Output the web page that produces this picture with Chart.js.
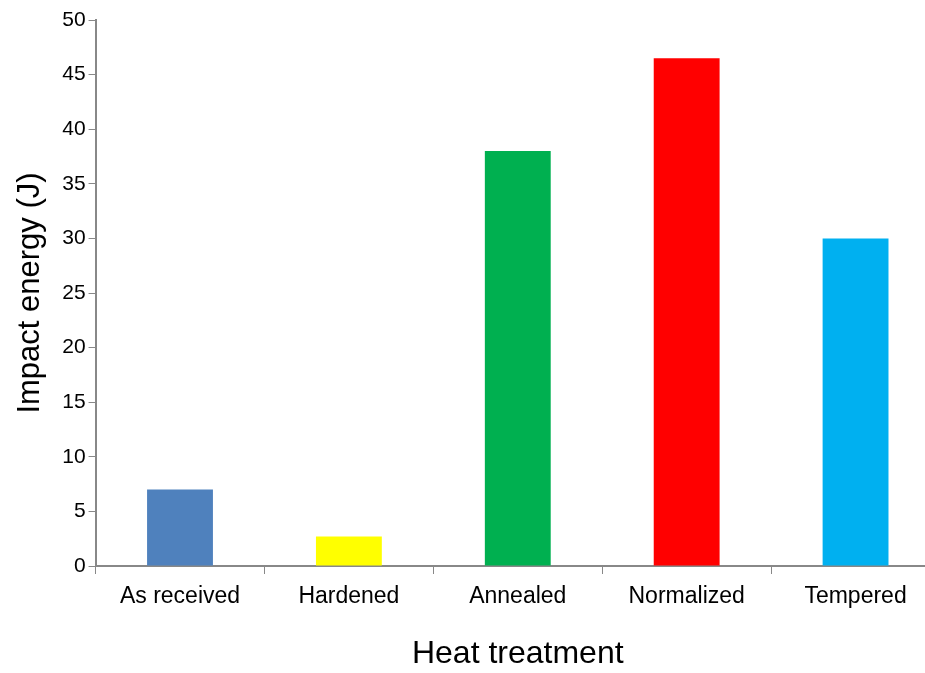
<!DOCTYPE html>
<html>
<head>
<meta charset="utf-8">
<script src="https://cdn.jsdelivr.net/npm/chart.js@4/dist/chart.umd.min.js"></script>
<style>
  html, body { margin: 0; padding: 0; background: #fff; overflow: hidden; }
  #wrap { width: 940px; height: 673px; }
</style>
</head>
<body>
<div id="wrap"><canvas id="chart-bar"></canvas></div>
<script>
var categories = ["As received", "Hardened", "Annealed", "Normalized", "Tempered"];
var impactEnergy = [7, 2.7, 38, 46.5, 30];
var barColors = ["#4f81bd", "#ffff00", "#00b050", "#ff0000", "#00b0f0"];
var yTicks = [0, 5, 10, 15, 20, 25, 30, 35, 40, 45, 50];

var ctx = document.getElementById("chart-bar").getContext("2d");

new Chart(ctx, {
  type: "bar",
  data: {
    labels: categories,
    datasets: [{
      label: "Impact energy",
      data: impactEnergy,
      backgroundColor: barColors,
      borderWidth: 0,
      barPercentage: 0.39,
      categoryPercentage: 1.0
    }]
  },
  options: {
    responsive: true,
    maintainAspectRatio: false,
    animation: false,
    layout: {
      padding: { top: 20, left: 12, right: 0, bottom: 0 }
    },
    plugins: {
      legend: { display: false },
      tooltip: { enabled: false }
    },
    scales: {
      x: {
        grid: {
          display: true,
          drawOnChartArea: false,
          drawTicks: true,
          tickLength: 8,
          color: "#888888",
          offset: true
        },
        border: { color: "#888888", width: 2 },
        ticks: {
          color: "#000",
          padding: 9,
          maxRotation: 0,
          font: { size: 23, family: "Liberation Sans" }
        },
        title: {
          display: true,
          text: "Heat treatment",
          color: "#000",
          padding: { top: 15, bottom: 0 },
          font: { size: 32, family: "Liberation Sans" }
        }
      },
      y: {
        min: 0,
        max: 50,
        afterBuildTicks: function (axis) {
          axis.ticks = yTicks.map(function (v) { return { value: v }; });
        },
        grid: {
          display: true,
          drawOnChartArea: false,
          drawTicks: true,
          tickLength: 7,
          color: "#888888"
        },
        border: { color: "#888888", width: 2 },
        ticks: {
          color: "#000",
          padding: 3,
          font: { size: 21, family: "Liberation Sans" }
        },
        title: {
          display: true,
          text: "Impact energy (J)",
          color: "#000",
          padding: { top: 0, bottom: 10 },
          font: { size: 31, family: "Liberation Sans" }
        }
      }
    }
  }
});
</script>
</body>
</html>
